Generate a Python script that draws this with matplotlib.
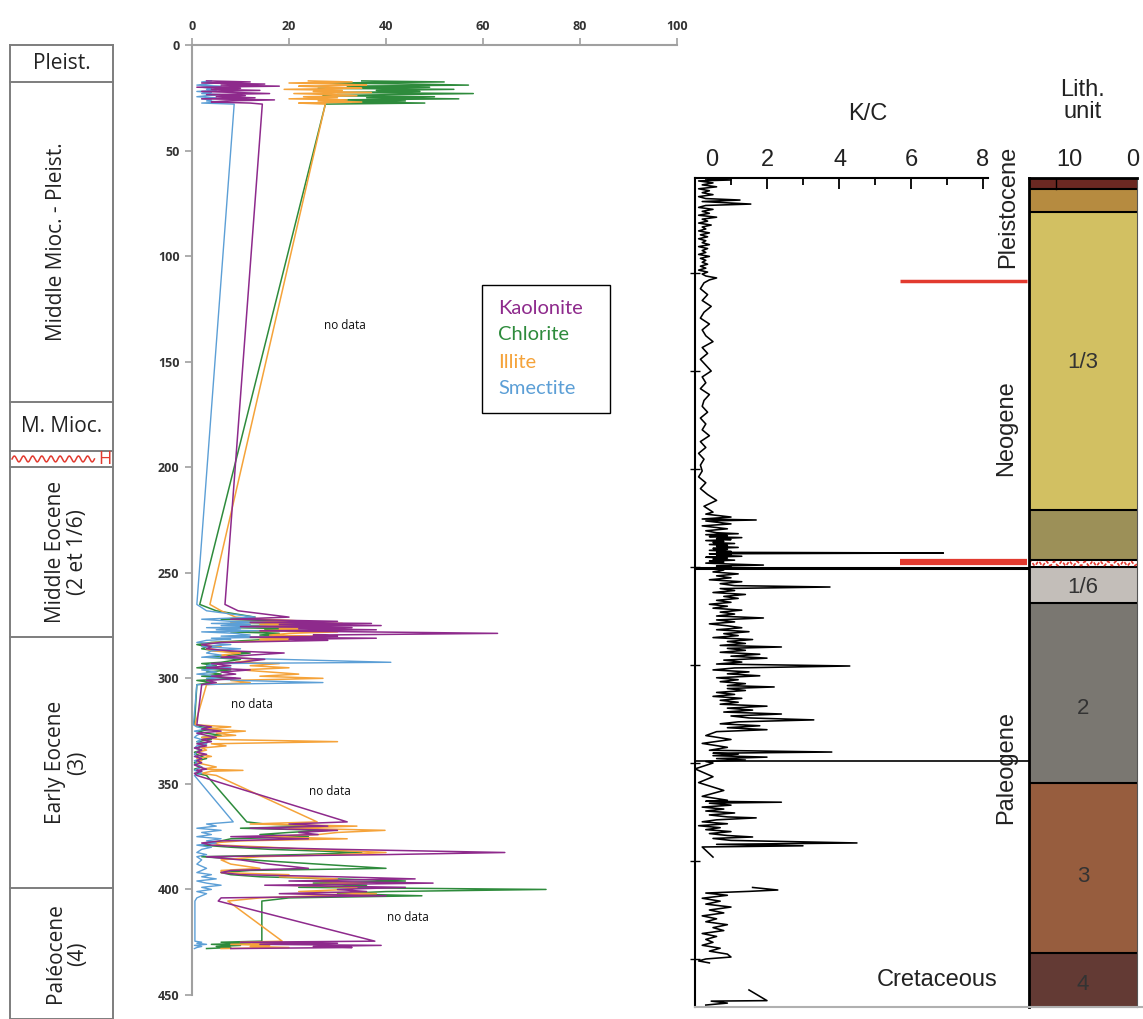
import numpy as np
import matplotlib
matplotlib.use('Agg')
import matplotlib.pyplot as plt
from matplotlib.patches import Rectangle

# ---------------- data ----------------
# clay mineral samples: depth (m) and percentages
clay_depth = [17.0, 17.5, 18.0, 18.5, 19.0, 19.5, 20.0, 20.5, 21.0, 21.5, 22.0, 22.5,
              23.0, 23.5, 24.0, 24.5, 25.0, 25.5, 26.0, 26.5, 27.0, 27.5, 28.0,
              265,
              268, 271, 272, 273, 273.5, 274, 274.5, 275, 275.5, 276, 276.5, 277, 277.5, 278,
              278.7, 279.5, 280, 280.5, 281, 281.5, 282, 283, 284, 285, 286, 287, 288, 289,
              290, 291, 292.4, 293, 294, 295, 296, 297, 298, 299, 300, 301, 302, 303,
              322, 323, 324, 325, 326, 327, 328, 329, 330, 331, 332, 333, 334, 335, 336, 337,
              338, 339, 340, 341, 342, 343, 343.6, 344, 345, 346,
              368, 369, 370, 371, 372, 373, 374, 375, 376, 377, 378, 379, 380, 381, 382.5,
              383.5, 384.5, 386, 388, 390, 391, 392, 393, 394, 395, 396, 397, 398, 399, 400,
              401, 402, 403, 404, 405.5,
              424.5, 425, 425.5, 426, 426.5, 427, 427.5, 428]
kaolinite = [3, 12, 2, 15, 6, 18, 1, 10, 4, 14, 2, 9, 16, 3, 11, 5, 13, 2, 17, 7, 4, 12, 14.5,
             6.8,
             9.5, 20, 8, 30, 12, 37, 18, 39, 10, 33, 22, 38, 14, 36, 63, 25, 30, 12, 38, 20, 28,
             6, 2, 4, 3, 8, 19, 12, 6, 15, 10, 4, 8, 3, 12, 6, 9, 4, 10, 3, 5, 2,
             1, 4, 2, 6, 1, 3, 5, 2, 4, 1, 3, 0.5, 2, 1, 3, 0.5, 2, 1, 2, 0.5, 1.5, 3, 1, 2, 0.5, 1,
             32, 20, 28, 12, 30, 22, 26, 8, 24, 6, 2, 4, 12, 30, 64.5, 40, 3, 10, 16, 24, 8, 6,
             10, 30, 46, 20, 49.7, 15, 44, 30, 36, 18, 40, 6, 5.4,
             37.7, 10, 30, 14, 39, 25, 33, 8]
chlorite = [35, 52, 28, 45, 57, 32, 49, 26, 54, 38, 47, 30, 58, 41, 27, 50, 36, 55, 29, 44, 33, 48, 27.5,
            1.6,
            5, 13, 6, 22, 10, 18, 28, 12, 24, 9, 20, 15, 26, 8, 18, 14, 22, 10, 25, 16, 12,
            4, 1, 3, 2, 5, 12, 8, 3, 10, 6, 2, 5, 1, 8, 3, 6, 2, 9, 1, 4, 1,
            0.5, 2, 5, 1, 3, 6, 2, 4, 1, 3, 2, 1, 2, 0.5, 1, 2, 3, 1, 0.5, 1, 2, 0.5, 1, 2, 1, 3,
            11.3, 15, 26, 10, 28, 20, 14, 24, 8, 6, 3, 2, 8, 16, 35, 22, 2, 12, 26, 40, 12, 6,
            8, 14, 30, 44, 25, 36, 22, 73, 40, 30, 47.4, 20, 14.4,
            14.4, 6, 12, 4, 10, 5, 8, 3]
illite = [24, 33, 20, 30, 36, 22, 28, 35, 19, 31, 25, 37, 21, 29, 34, 23, 30, 20, 32, 26, 35, 22, 27.5,
          3.7,
          6, 9, 15, 24, 8, 31, 14, 26, 10, 29, 18, 22, 12, 30, 20, 16, 25, 9, 27, 14, 20,
          5, 2, 6, 3, 4, 10, 6, 8, 14, 9, 18, 12, 20, 10, 16, 22, 14, 27, 8, 12, 3,
          0.6, 8, 3, 11, 5, 9, 2, 6, 30, 4, 7, 2, 3, 1, 2, 4, 1, 2, 1, 3, 5, 2, 10.5, 4, 2, 5,
          25.8, 12, 34, 20, 39.8, 30, 26, 14, 32, 10, 4, 6, 16, 24, 40, 30, 14, 6, 8, 14, 6, 6,
          20, 18, 30, 24, 36, 20, 34, 32, 22, 38, 26, 14, 7.4,
          18.6, 10, 22, 8, 16, 12, 20, 6]
smectite = [4, 2, 5, 3, 1, 6, 2, 4, 3, 5, 1, 4, 2, 6, 3, 1, 5, 2, 4, 3, 6, 2, 8.7,
            1.0,
            3, 13, 2, 8, 15, 4, 12, 6, 18, 3, 10, 5, 14, 2, 9, 12, 6, 16, 4, 8, 3,
            1, 8, 2, 10, 4, 3, 6, 2, 18, 41, 5, 3, 8, 2, 5, 1, 6, 3, 10, 27, 1,
            0.3, 1, 3, 0.5, 2, 1, 0.5, 2, 1, 3, 1, 0.5, 2, 1, 0.5, 1, 2, 0.5, 1, 0.5, 2, 1, 0.5, 1, 2, 0.5,
            8.5, 3, 5, 1, 6, 2, 4, 1, 6, 3, 5, 1, 4, 2, 1, 3, 1, 2, 1, 3, 2, 1,
            4, 2, 5, 1, 3, 6, 2, 4, 1, 3, 2, 1, 0.6,
            0.6, 2, 1, 3, 0.5, 2, 1, 0.5]
minerals = ['Kaolonite', 'Chlorite', 'Illite', 'Smectite']
no_data_x = [31.5, 12.4, 28.5, 44.6]
no_data_y = [133, 312.6, 353.4, 413.5]

# K/C ratio log (its own depth scale, m)
nan = float('nan')
kc_depth = [4, 5, 6, 8, 10, 12, 14, 16, 18, 20, 22, 24, 25.5, 27, 29.6, 31, 33, 35, 37, 39,
            41, 43, 45, 47, 49, 51, 53, 55, 57, 59, 61, 63, 65, 67, 69, 71, 73, 75, 77, 79,
            81, 83, 85, 87, 89, 91, 93, 95, 97, 99, 101, 103, 105, 107,
            110, 116, 122, 128, 134, 140, 146, 152, 158, 164, 170, 176, 182, 188, 194, 200,
            206, 212, 218, 224, 230, 236, 242, 248, 254, 260, 266, 272, 278, 284, 290, 296,
            302, 308, 314, 320, 326, 332, 338, 344,
            346, 349, 351, 352, 353, 356, 358, 361, 363, 365, 366, 367, 368, 369, 370, 371,
            372, 373, 374, 375, 376, 377, 378, 379, 380, 381, 382, 383, 384, 385, 385.7,
            386.5, 387, 388, 389, 390, 391, 392, 393, 394, 395, 396, 397, 398, 399, 400, 401,
            403, 405, 407, 409, 411, 413, 415, 417, 419, 420.4, 422, 424, 426, 428, 430, 432,
            434, 436, 438, 440, 442, 444, 446, 448, 450, 452, 454, 456, 458, 460, 462, 464,
            466, 468, 470, 472, 474, 476, 478, 480, 481.6, 483, 485, 487, 489, 491, 493, 495,
            497, 499, 501, 503, 505, 507, 509, 511, 513, 515, 517, 519, 521, 522.4, 524, 526,
            528, 530, 532, 534, 536,
            538, 540, 542, 544, 546, 548, 550, 552, 554, 556, 558, 560, 562, 564, 566, 568,
            572, 576, 580, 584, 587, 588.8, 590, 591, 592.5, 594, 595.5, 597, 598.5, 600,
            606, 614, 620, 628, 634, 638, 639, 640, 641, 643, 645, 647, 649, 651, 653, 655,
            656, 658, 660, 662, 664, 666, 668, 670, 672, 674, 675.5, 677, 679, 681.6, 683,
            684.5, 685.7, 696, nan,
            727, 729.6, 731, 732.7, 735, 738, 741, 744, 747, 750, 753, 756, 759, 762, 765,
            768, 771, 774, 777, 780, 783, 786, 789, 792, 795, 798, 800, 802, 804, nan,
            831.6, 842.5, 843, 845, 847]
kc_ratio = [0.3, 1.0, 0.1, 0.5, 0.2, 0.6, 0.1, 0.4, 0.2, 0.5, 0.1, 0.3, 1.25, 0.2, 1.55, 0.3,
            0.1, 0.5, 0.2, 0.4, 0.1, 0.6, 0.2, 0.35, 0.1, 0.45, 0.2, 0.3, 0.1, 0.4, 0.15, 0.35,
            0.1, 0.3, 0.2, 0.4, 0.1, 0.35, 0.2, 0.3, 0.1, 0.4, 0.15, 0.3, 0.2, 0.35, 0.15, 0.3,
            0.1, 0.35, 0.2, 0.3, 0.6, 0.4,
            0.25, 0.15, 0.35, 0.2, 0.45, 0.25, 0.15, 0.4, 0.2, 0.3, 0.5, 0.2, 0.35, 0.15, 0.3,
            0.45, 0.2, 0.3, 0.15, 0.4, 0.25, 0.2, 0.35, 0.15, 0.3, 0.2, 0.4, 0.15, 0.3, 0.1,
            0.25, 0.15, 0.2, 0.1, 0.3, 0.15, 0.35, 0.6, 0.25, 0.5,
            0.3, 1.0, 0.2, 1.7, 0.3, 1.0, 0.2, 0.9, 0.3, 0.6, 1.2, 0.3, 0.9, 0.4, 1.3, 0.6,
            1.0, 0.3, 0.8, 0.5, 1.1, 0.4, 0.9, 0.6, 1.2, 0.5, 0.9, 0.4, 1.0, 0.6, 6.9,
            0.4, 1.0, 0.6, 1.3, 0.3, 0.9, 0.5, 1.1, 0.4, 0.8, 0.3, 1.0, 1.9, 0.6, 1.0, 0.4,
            0.8, 0.5, 1.2, 0.6, 1.0, 0.4, 1.3, 0.7, 1.1, 3.75, 0.7, 1.1, 0.5, 1.4, 0.8, 1.2,
            0.6, 1.0, 0.4, 0.9, 0.5, 1.3, 0.7, 1.1, 0.6, 1.9, 0.6, 1.1, 0.4, 0.9, 1.3, 0.6,
            1.5, 0.8, 1.2, 0.5, 1.6, 0.9, 1.4, 0.7, 2.4, 0.9, 1.4, 0.7, 1.8, 1.0, 2.0, 0.8,
            1.3, 0.6, 4.3, 1.1, 0.5, 1.5, 0.9, 1.8, 0.6, 1.2, 0.7, 1.4, 0.9, 2.2, 0.9, 1.4,
            0.6, 1.1, 0.5, 1.3, 0.7,
            1.2, 0.7, 2.0, 0.9, 1.6, 0.8, 2.4, 1.0, 1.5, 3.3, 1.2, 0.7, 1.8, 0.9, 2.0, 0.6,
            0.3, 1.0, 0.2, 0.9, 0.4, 3.8, 0.5, 1.2, 0.5, 2.0, 0.6, 1.4, 0.3, 0.5,
            0.0, 0.5, 0.1, 0.8, 0.2, 0.9, 0.3, 2.4, 0.4, 1.0, 0.2, 0.8, 0.3, 1.1, 0.4, 0.9,
            1.7, 0.6, 0.2, 0.9, 0.1, 0.7, 0.3, 1.0, 0.4, 0.9, 1.6, 0.5, 1.0, 4.5, 0.6,
            3.0, 0.2, 0.5, nan,
            1.6, 2.3, 1.5, 0.3, 0.9, 0.2, 0.7, 0.3, 1.0, 0.4, 0.8, 0.2, 0.6, 0.3, 0.9,
            0.5, 0.8, 0.2, 0.6, 0.3, 0.5, 0.2, 0.7, 0.4, 0.9, 1.0, 0.3, 0.1, 0.4, nan,
            1.5, 2.0, 0.45, 0.9, 0.3]

# lithological units (right depth scale)
lith_tops = [3.1, 14.3, 37.8, 341.8, 392.9, 400.0, 436.7, 620.4, 793.9]
lith_base = 849
lith_colors = ['#6b2822', '#b68b40', '#d2c062', '#9c9058', '#ffffff',
               '#c3beb9', '#7a7771', '#975d3e', '#633a34']
lith_names = ['1/3', '1/6', '2', '3', '4']
lith_name_depth = [190.8, 420.4, 543.9, 716.3, 826.5]
red_marks = [108.2, 394.9]
black_marks = [401.0, 597.7]

# stratigraphic column (left depth scale)
strat_tops = [0, 17.5, 169.1, 192.3, 199.9, 280.4, 399.3]
strat_base = 461.4
strat_names = ['Pleist.', 'Middle Mioc. - Pleist.', 'M. Mioc.', '',
               'Middle Eocene\n(2 et 1/6)', 'Early Eocene\n(3)', 'Paléocene\n(4)']

# ---------------- figure ----------------
W, H = 1143, 1019
fig = plt.figure(figsize=(W / 100, H / 100), dpi=100)
fig.patch.set_facecolor('white')


def frac(x0, y0, x1, y1):
    return [x0 / W, 1 - y1 / H, (x1 - x0) / W, (y1 - y0) / H]


SANS = ['Open Sans', 'DejaVu Sans']
LEG = ['Lato', 'DejaVu Sans']
HELV = ['Liberation Sans', 'DejaVu Sans']
kaol_c, chlo_c, illi_c, smec_c = '#8e2a8c', '#2e8b3c', '#f5a33a', '#5c9fd6'
red = '#e23a2f'

# ---- stratigraphic column ----
axs = fig.add_axes(frac(10, 45, 113, 1019))
axs.set_xlim(0, 1)
axs.set_ylim(strat_base, 0)
axs.axis('off')
edge = '#7d7d7d'
for b in strat_tops + [strat_base]:
    axs.plot([0, 1], [b, b], color=edge, lw=1.4, clip_on=False)
axs.plot([0, 0], [0, strat_base], color=edge, lw=1.4, clip_on=False)
axs.plot([1, 1], [0, strat_base], color=edge, lw=1.4, clip_on=False)
bot = strat_tops[1:] + [strat_base]
for top, b, name in zip(strat_tops, bot, strat_names):
    if not name:
        continue
    mid = (top + b) / 2
    if name in ('Pleist.', 'M. Mioc.'):
        axs.text(0.5, mid, name, ha='center', va='center', fontsize=15,
                 family=SANS, color='#222')
    else:
        xc = 0.45 if '\n' not in name else 0.55
        axs.text(xc, mid, name, ha='center', va='center', fontsize=15,
                 family=SANS, color='#222', rotation=90, linespacing=1.05,
                 multialignment='center')
# hiatus wave
t = np.linspace(0, 1, 300)
hmid = (strat_tops[3] + strat_tops[4]) / 2
axs.plot(0.02 + 0.8 * t, hmid - 1.4 * np.sin(2 * np.pi * 9 * t), color=red, lw=1.1)
axs.text(0.92, hmid, 'H', ha='center', va='center', fontsize=13, color=red, family=SANS)

# ---- clay minerals panel ----
ax = fig.add_axes(frac(192, 45, 677, 995))
ax.set_xlim(0, 100)
ax.set_ylim(450, 0)
ax.xaxis.tick_top()
ax.set_xticks(range(0, 101, 20))
ax.set_yticks(range(0, 451, 50))
for s in ['right', 'bottom']:
    ax.spines[s].set_visible(False)
for s in ['left', 'top']:
    ax.spines[s].set_color('#a0a0a0')
    ax.spines[s].set_linewidth(1.5)
ax.tick_params(direction='out', length=5, width=1.2, color='#a0a0a0',
               labelsize=9, labelcolor='#333333', pad=4)
for lbl in ax.get_xticklabels() + ax.get_yticklabels():
    lbl.set_fontweight('bold')
    lbl.set_family(['Open Sans', 'DejaVu Sans'])
ax.plot(chlorite, clay_depth, color=chlo_c, lw=1.1)
ax.plot(illite, clay_depth, color=illi_c, lw=1.1)
ax.plot(smectite, clay_depth, color=smec_c, lw=1.0)
ax.plot(kaolinite, clay_depth, color=kaol_c, lw=1.1)
for x, y in zip(no_data_x, no_data_y):
    ax.text(x, y, 'no data', ha='center', va='center', fontsize=8.5,
            family=['Open Sans', 'DejaVu Sans'], color='#111')

# ---- K/C panel ----
axr = fig.add_axes(frac(695, 178, 1029, 1007))
axr.set_xlim(0, 9.28)
axr.set_ylim(849, 3)
axr.patch.set_alpha(0)
axr.xaxis.tick_top()
axr.set_xticks([0, 2, 4, 6, 8])
axr.set_xticks([1, 3, 5, 7], minor=True)
axr.set_xticklabels([])
axr.tick_params(axis='x', which='major', direction='in', length=8, width=1.3)
axr.tick_params(axis='x', which='minor', direction='in', length=5, width=1.3)
axr.set_yticks(range(100, 801, 100))
axr.set_yticklabels([])
axr.tick_params(axis='y', direction='inout', length=7, width=1.0)
axr.spines['top'].set_bounds(0, 8.15)
axr.spines['top'].set_linewidth(1.5)
axr.spines['left'].set_linewidth(1.5)
axr.spines['right'].set_visible(False)
axr.spines['bottom'].set_visible(False)
axr.plot(kc_ratio, kc_depth, color='black', lw=1.15)
axr.plot([5.7, 9.22], [red_marks[0]] * 2, color=red, lw=2.5, solid_capstyle='butt')
axr.plot([5.7, 9.22], [red_marks[1]] * 2, color=red, lw=4.5, solid_capstyle='butt')
axr.plot([0, 9.28], [black_marks[0]] * 2, color='black', lw=2.2)
axr.plot([0, 9.28], [black_marks[1]] * 2, color='black', lw=1.2)

# ---- lithological column ----
axl = fig.add_axes(frac(1029, 178, 1137, 1007))
axl.set_xlim(0, 1)
axl.set_ylim(849, 3)
lbot = lith_tops[1:] + [lith_base]
for top, b, col in zip(lith_tops, lbot, lith_colors):
    axl.axhspan(top, b, color=col, lw=0)
for b in lith_tops[1:]:
    axl.axhline(b, color='black', lw=1.5)
axl.plot([0.25, 0.25], [lith_tops[0], lith_tops[1]], color='black', lw=1)
tw = np.linspace(0, 1, 300)
hm = (lith_tops[4] + lith_tops[5]) / 2
axl.plot(tw, hm - 2.0 * np.sin(2 * np.pi * 14 * tw), color=red, lw=1.2, ls=(0, (2, 1)))
axl.set_xticks([])
axl.set_yticks([])
for s in ['left', 'top']:
    axl.spines[s].set_linewidth(2)
axl.spines['right'].set_linewidth(0.8)
axl.spines['right'].set_color('#555')
axl.spines['bottom'].set_color('#aaa')
for name, d in zip(lith_names, lith_name_depth):
    axl.text(0.5, d, name, ha='center', va='center', fontsize=16, family=HELV, color='#333')

# ---- overlay texts ----
ov = fig.add_axes([0, 0, 1, 1], zorder=10)
ov.set_xlim(0, W)
ov.set_ylim(H, 0)
ov.axis('off')
ov.plot([695, 1143], [1007, 1007], color='#b0b0b0', lw=1.5)

# legend
ov.add_patch(Rectangle((482, 285), 128, 128, fill=False, edgecolor='black', lw=1.0))
for name, col, yy in zip(minerals, [kaol_c, chlo_c, illi_c, smec_c], [308, 335, 362, 389]):
    ov.text(498, yy, name, ha='left', va='center', fontsize=14.5, color=col, family=LEG)

ov.text(868, 114, 'K/C', ha='center', va='center', fontsize=17, family=HELV, color='#222')
ov.text(1083, 101, 'Lith.\nunit', ha='center', va='center', fontsize=17, family=HELV,
        color='#222', linespacing=1.0)
for lab, xx in zip(['0', '2', '4', '6', '8', '10', '0'], [712, 767, 840, 911, 983, 1069, 1133]):
    ov.text(xx, 160, lab, ha='center', va='center', fontsize=17, family=HELV, color='#222')
ov.text(1008, 207, 'Pleistocene', rotation=90, ha='center', va='center', fontsize=17,
        family=HELV, color='#222')
ov.text(1006, 428, 'Neogene', rotation=90, ha='center', va='center', fontsize=17,
        family=HELV, color='#222')
ov.text(1006, 767, 'Paleogene', rotation=90, ha='center', va='center', fontsize=17,
        family=HELV, color='#222')
ov.text(937, 980, 'Cretaceous', ha='center', va='center', fontsize=17, family=HELV, color='#222')

fig.savefig('out.png', dpi=100, facecolor='white')
